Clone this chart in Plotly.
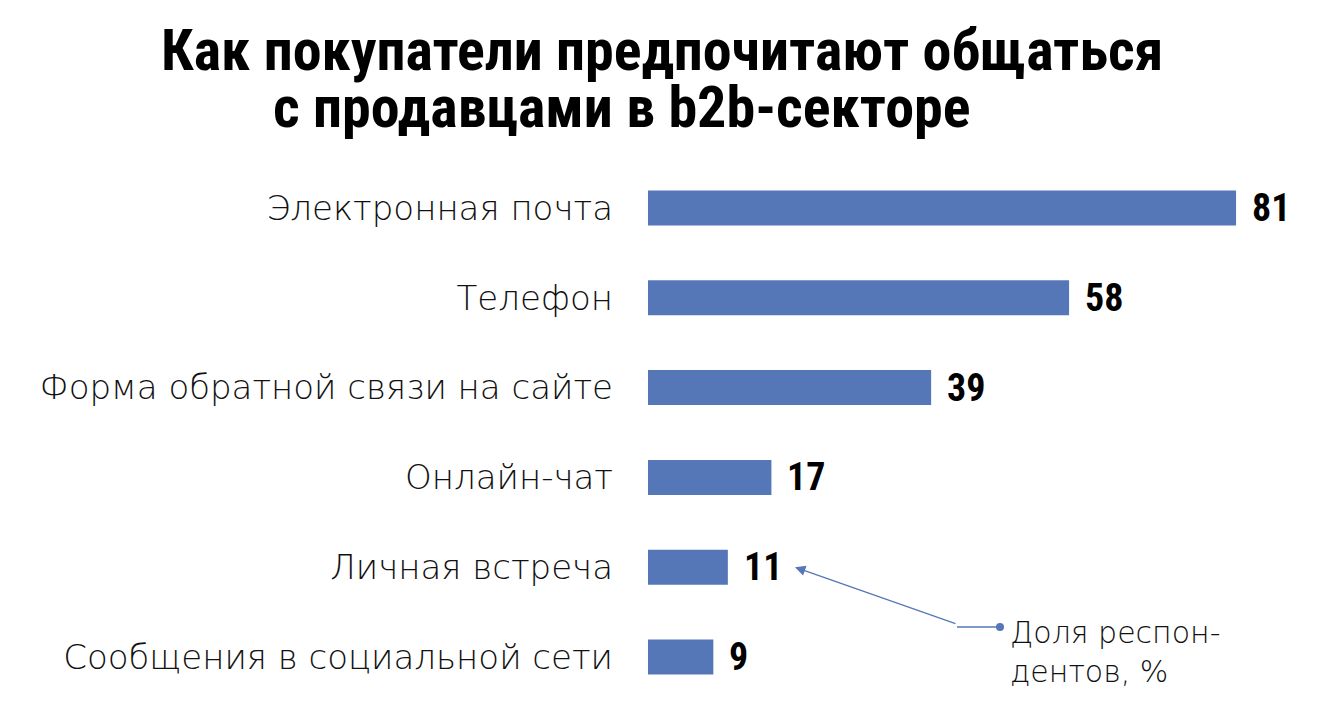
import plotly.graph_objects as go

categories = ["Электронная почта", "Телефон", "Форма обратной связи на сайте",
              "Онлайн-чат", "Личная встреча", "Сообщения в социальной сети"]
values = [81, 58, 39, 17, 11, 9]
title_lines = ["Как покупатели предпочитают общаться", "с продавцами в b2b-секторе"]
note_text = "Доля респон-<br>дентов, %"

BAR = "#5577B8"
COND = "Roboto Condensed, Liberation Sans Narrow, Arial Narrow, sans-serif"
LABEL_FONT = "DejaVu Sans"

OFF = 8  # page body margin
W, H = 1326 - 2 * OFF, 717 - 2 * OFF
L, R, T, B = 648 - OFF, 25, 163 - OFF, 15 - OFF
PW, PH = W - L - R, H - T - B
sx = 7.26


def px(xr):
    return (xr - OFF - L) / PW


def py(yr):
    return 1 - (yr - OFF - T) / PH


fig = go.Figure()
fig.add_trace(go.Bar(
    x=values, y=categories, orientation="h",
    marker=dict(color=BAR, line=dict(width=0)),
    hoverinfo="skip",
))
for c, v in zip(categories, values):
    fig.add_annotation(x=v, y=c, xref="x", yref="y", text=f"<b>{v}</b>",
                       showarrow=False, xanchor="left", xshift=14,
                       font=dict(family=COND, size=38, color="#000"))

# title
fig.add_annotation(xref="paper", yref="paper", x=px(662), y=py(50),
                   text=f"<b>{title_lines[0]}</b>", showarrow=False, xanchor="center", yanchor="middle",
                   font=dict(family=COND, size=58, color="#000"))
fig.add_annotation(xref="paper", yref="paper", x=px(622), y=py(107),
                   text=f"<b>{title_lines[1]}</b>", showarrow=False, xanchor="center", yanchor="middle",
                   font=dict(family=COND, size=58, color="#000"))

# note with arrow
fig.add_annotation(x=(795 - 648) / sx, y=categories[4], xref="x", yref="y",
                   ax=957 - 795, ay=627 - 570, axref="pixel", ayref="pixel",
                   text="", showarrow=True, arrowhead=2, arrowsize=1.6, arrowwidth=1.3,
                   arrowcolor=BAR)
fig.add_shape(type="line", xref="paper", yref="paper", x0=px(957), x1=px(1000),
              y0=py(627), y1=py(627), line=dict(color=BAR, width=1.3))
fig.add_shape(type="circle", xref="paper", yref="paper",
              x0=px(996), x1=px(1004), y0=py(631), y1=py(623),
              fillcolor=BAR, line=dict(width=0))
fig.add_annotation(x=px(1008), y=py(652), xref="paper", yref="paper",
                   text=note_text, showarrow=False, xanchor="left", yanchor="middle", align="left",
                   font=dict(family=LABEL_FONT, weight=300, size=30, color="#111"))

fig.update_layout(
    width=W, height=H,
    margin=dict(l=L, r=R, t=T, b=B),
    paper_bgcolor="white", plot_bgcolor="white",
    bargap=0.61, showlegend=False,
    xaxis=dict(range=[0, PW / sx], visible=False, fixedrange=True),
    yaxis=dict(autorange="reversed", showgrid=False, zeroline=False, showline=False,
               ticks="", ticklabelstandoff=34,
               tickfont=dict(family=LABEL_FONT, weight=300, size=34, color="#111")),
)
fig.write_html("out.html")
